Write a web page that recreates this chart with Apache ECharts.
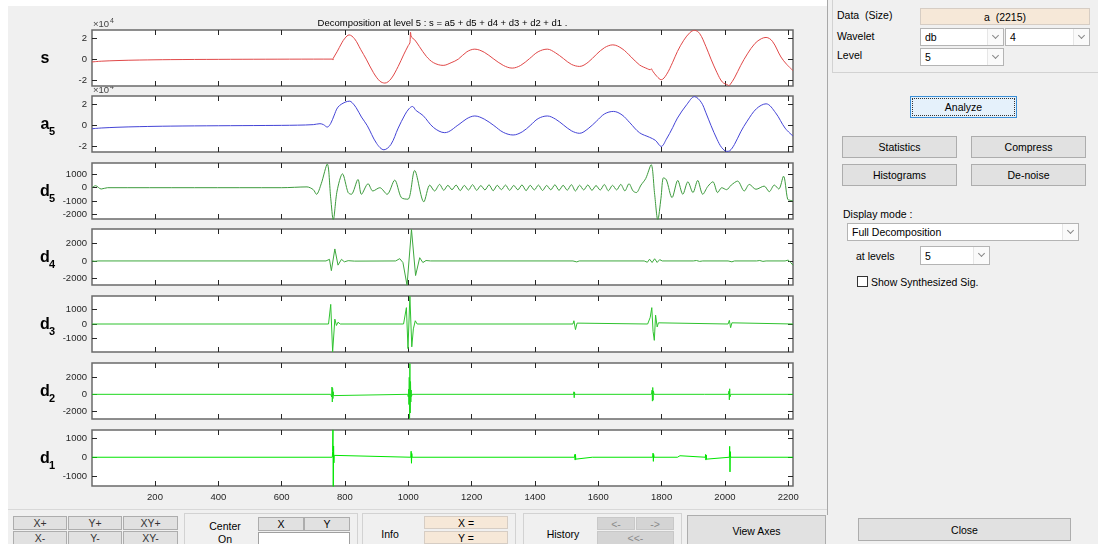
<!DOCTYPE html>
<html><head><meta charset="utf-8">
<script src="https://cdn.jsdelivr.net/npm/echarts@6/dist/echarts.min.js"></script>
<style>
html,body{margin:0;padding:0;}
body{width:1098px;height:544px;background:#f0f0f0;position:relative;overflow:hidden;font-family:'Liberation Sans',Arial,sans-serif;font-size:10.5px;color:#000;}
.btn{position:absolute;box-sizing:border-box;background:#e1e1e1;border:1px solid #adadad;display:flex;align-items:center;justify-content:center;color:#000;}
.btn.dis{background:#d4d4d4;border-color:#c8c8c8;color:#8a8a8a;}
.tan{position:absolute;box-sizing:border-box;background:#f6e8d8;border:1px solid #d6cdc4;display:flex;align-items:center;justify-content:center;}
.dd{position:absolute;box-sizing:border-box;background:#fff;border:1px solid #b4b4b4;padding-left:4px;display:flex;align-items:center;}
.dd .ar{position:absolute;right:0;top:0;bottom:0;width:15px;background:#fafafa;border-left:1px solid #e6e6e6;}
.dd .ar:after{content:'';position:absolute;left:5px;top:4px;width:4px;height:4px;border-right:1px solid #888;border-bottom:1px solid #888;transform:rotate(45deg);}
.frame{position:absolute;box-sizing:border-box;border:1px solid #d2d2d2;}
.txt{position:absolute;white-space:nowrap;line-height:12px;}
#chart{position:absolute;left:0;top:0;width:828px;height:509px;}
</style></head>
<body>
<div style="position:absolute;left:0;top:0;width:828px;height:6px;background:#fff"></div>
<div style="position:absolute;left:0;top:0;width:8px;height:544px;background:#fff"></div>
<div style="position:absolute;left:8px;top:509px;width:820px;height:1px;background:#d8d8d8"></div>
<div style="position:absolute;left:827px;top:0;width:1px;height:515px;background:#a8a8a8"></div>
<div id="chart"></div>

<!-- right panel -->
<div class="frame" style="left:832px;top:-2px;width:270px;height:75px;"></div>
<div class="txt" style="left:837px;top:9px;">Data&nbsp; (Size)</div>
<div class="tan" style="left:920px;top:8px;width:170px;height:17px;">a&nbsp; (2215)</div>
<div class="txt" style="left:837px;top:30px;">Wavelet</div>
<div class="dd" style="left:920px;top:28px;width:84px;height:18px;">db<span class="ar"></span></div>
<div class="dd" style="left:1005px;top:28px;width:85px;height:18px;">4<span class="ar"></span></div>
<div class="txt" style="left:837px;top:49px;">Level</div>
<div class="dd" style="left:920px;top:48px;width:84px;height:18px;">5<span class="ar"></span></div>
<div class="btn" style="left:910px;top:96px;width:107px;height:22px;background:#e5f1fb;border-color:#3c8fd6;outline:1px dotted #333;outline-offset:-3px;">Analyze</div>
<div class="btn" style="left:842px;top:136px;width:115px;height:22px;">Statistics</div>
<div class="btn" style="left:971px;top:136px;width:115px;height:22px;">Compress</div>
<div class="btn" style="left:842px;top:164px;width:115px;height:22px;">Histograms</div>
<div class="btn" style="left:971px;top:164px;width:115px;height:22px;">De-noise</div>
<div class="txt" style="left:843px;top:208px;">Display mode :</div>
<div class="dd" style="left:847px;top:223px;width:232px;height:18px;">Full Decomposition<span class="ar"></span></div>
<div class="txt" style="left:856px;top:250px;">at levels</div>
<div class="dd" style="left:920px;top:246px;width:70px;height:19px;">5<span class="ar"></span></div>
<div style="position:absolute;left:857px;top:276px;width:11px;height:11px;box-sizing:border-box;border:1px solid #333;background:#fff;"></div>
<div class="txt" style="left:871px;top:276px;">Show Synthesized Sig.</div>
<div class="btn" style="left:858px;top:518px;width:213px;height:23px;">Close</div>

<!-- bottom controls -->
<div class="btn" style="left:13px;top:516px;width:54px;height:14px;color:#333">X+</div>
<div class="btn" style="left:68px;top:516px;width:54px;height:14px;color:#333">Y+</div>
<div class="btn" style="left:123px;top:516px;width:55px;height:14px;color:#333">XY+</div>
<div class="btn" style="left:13px;top:531px;width:54px;height:14px;color:#333">X-</div>
<div class="btn" style="left:68px;top:531px;width:54px;height:14px;color:#333">Y-</div>
<div class="btn" style="left:123px;top:531px;width:55px;height:14px;color:#333">XY-</div>
<div class="frame" style="left:184px;top:513px;width:174px;height:34px;"></div>
<div class="txt" style="left:205px;top:520px;width:40px;text-align:center;">Center</div>
<div class="txt" style="left:205px;top:533px;width:40px;text-align:center;">On</div>
<div class="btn" style="left:258px;top:517px;width:46px;height:14px;">X</div>
<div class="btn" style="left:304px;top:517px;width:46px;height:14px;">Y</div>
<div style="position:absolute;left:258px;top:532px;width:92px;height:13px;box-sizing:border-box;background:#fff;border:1px solid #a0a0a0;"></div>
<div class="frame" style="left:362px;top:513px;width:154px;height:34px;"></div>
<div class="txt" style="left:374px;top:528px;width:32px;text-align:center;">Info</div>
<div class="tan" style="left:424px;top:516px;width:84px;height:13px;">X =</div>
<div class="tan" style="left:424px;top:531px;width:84px;height:13px;">Y =</div>
<div class="frame" style="left:523px;top:513px;width:159px;height:34px;"></div>
<div class="txt" style="left:540px;top:528px;width:46px;text-align:center;">History</div>
<div class="btn dis" style="left:597px;top:517px;width:38px;height:13px;">&lt;-</div>
<div class="btn dis" style="left:636px;top:517px;width:38px;height:13px;">-&gt;</div>
<div class="btn dis" style="left:597px;top:531px;width:77px;height:14px;">&lt;&lt;-</div>
<div class="btn" style="left:687px;top:515px;width:139px;height:31px;">View Axes</div>

<script>
// ---------- data (sample index, value) ----------
const xTicks = [200,400,600,800,1000,1200,1400,1600,1800,2000,2200];

const sData = [[1,-2700],[30,-2000],[80,-1400],[150,-900],[250,-500],[400,-250],[550,-100],[700,-20],[761,0],[762,-900],[763,800],[775,7000],[790,15500],[800,20000],[813,23100],[830,19500],[850,9000],[867,0],[890,-13000],[910,-21000],[926,-22900],[945,-19000],[968,-7000],[985,4000],[1000,13000],[1005,15500],[1007,25700],[1010,21000],[1020,18500],[1035,12000],[1057,2600],[1080,-3500],[1110,-6000],[1135,-3500],[1158,0],[1185,7000],[1210,9500],[1240,6500],[1268,500],[1300,-6000],[1328,-8600],[1355,-6000],[1383,500],[1410,7000],[1439,9500],[1465,6000],[1490,500],[1515,-5000],[1541,-7000],[1568,-3000],[1594,4500],[1620,11000],[1646,13600],[1675,10000],[1704,2000],[1730,-5500],[1755,-9200],[1764,-10200],[1767,-9200],[1772,-11500],[1785,-16500],[1799,-19700],[1815,-15000],[1835,-3000],[1850,7300],[1870,18000],[1890,25500],[1904,27500],[1920,24500],[1940,12000],[1956,0],[1975,-13000],[1992,-22000],[2009,-24700],[2012,-25300],[2016,-24500],[2030,-18000],[2050,-6000],[2071,5000],[2095,15000],[2115,19500],[2130,20700],[2150,17000],[2177,2000],[2195,-5000],[2215,-11000]];

const a5Data = [[1,-3100],[30,-2400],[80,-1700],[150,-1100],[250,-600],[400,-250],[550,0],[650,300],[700,800],[721,1700],[732,800],[744,-1500],[755,2000],[765,9000],[778,17400],[800,22000],[815,23000],[822,21800],[835,17000],[852,8000],[870,0],[900,-17000],[923,-23000],[945,-18000],[968,-2500],[989,10000],[1002,15800],[1013,18000],[1025,14000],[1046,9600],[1080,-2000],[1115,-6800],[1160,1000],[1185,6500],[1210,9000],[1240,6000],[1270,0],[1300,-6500],[1331,-9000],[1360,-6000],[1385,0],[1410,6500],[1439,9000],[1465,6000],[1490,500],[1515,-5000],[1541,-7400],[1568,-3000],[1594,4000],[1620,11000],[1648,13300],[1675,10000],[1700,2500],[1730,-6800],[1762,-11200],[1780,-14000],[1799,-19800],[1815,-13000],[1835,-2000],[1850,7000],[1880,20000],[1904,27300],[1925,22000],[1940,12000],[1956,0],[1975,-13000],[1990,-21000],[2006,-24500],[2015,-24000],[2030,-18000],[2050,-6000],[2070,4000],[2100,16000],[2130,20500],[2160,12000],[2190,-2500],[2215,-10000]];

const d5Data = [[1,0],[12,150],[30,-100],[50,0],[600,0],[680,60],[700,-150],[710,-500],[725,300],[744,1790],[755,-800],[763,-2440],[775,-250],[792,1050],[810,-370],[820,-500],[841,620],[852,-500],[873,300],[888,-250],[910,0],[933,-500],[957,570],[978,-750],[999,-870],[1020,1300],[1049,-1070],[1068,200],[1083,-250],[1099,250],[1112,-200],[1125,180],[1138,-150],[1151,200],[1164,-220],[1177,170],[1190,-180],[1203,230],[1216,-200],[1229,160],[1242,-170],[1255,220],[1268,-230],[1281,180],[1294,-150],[1307,200],[1320,-200],[1333,170],[1346,-160],[1359,210],[1372,-220],[1385,180],[1398,-170],[1411,200],[1424,-210],[1437,170],[1450,-160],[1463,220],[1476,-200],[1489,180],[1502,-190],[1515,230],[1528,-250],[1541,190],[1554,-170],[1567,210],[1580,-200],[1593,160],[1606,-180],[1619,240],[1632,-230],[1645,180],[1658,-170],[1671,250],[1684,-240],[1697,300],[1710,-250],[1720,-370],[1735,200],[1750,700],[1767,1740],[1778,-500],[1788,-2440],[1798,-800],[1806,750],[1815,600],[1833,-750],[1851,550],[1867,-500],[1883,450],[1899,-370],[1914,550],[1930,-500],[1946,100],[1962,450],[1977,-370],[1990,0],[2005,-150],[2020,200],[2040,500],[2061,-250],[2077,250],[2098,-120],[2124,120],[2140,-300],[2156,200],[2170,-100],[2185,870],[2198,-870],[2205,-950],[2215,-1000]];

const d4Data = [[1,0],[5,60],[10,-40],[20,0],[740,0],[751,185],[757,-1110],[768,1370],[778,-480],[789,185],[798,-100],[810,30],[830,-20],[960,0],[973,260],[983,-185],[996,-2780],[1010,3590],[1023,-1670],[1036,370],[1046,-185],[1056,50],[1070,0],[1520,0],[1526,185],[1532,-110],[1540,0],[1745,0],[1755,-150],[1762,200],[1770,-180],[1778,250],[1786,-170],[1794,150],[1802,0],[1900,0],[1910,50],[1920,-50],[1930,0],[2010,0],[2016,100],[2022,-100],[2030,0],[2100,0],[2110,50],[2120,-50],[2130,0],[2190,0],[2200,100],[2208,-200],[2215,-480]];

const d3Data = [[1,0],[748,0],[752,-60],[755,1330],[761,-1890],[768,330],[773,-100],[778,120],[785,0],[985,0],[990,-100],[994,1110],[999,-1670],[1005,1890],[1011,-1550],[1016,-330],[1022,220],[1028,0],[1520,0],[1523,220],[1528,-380],[1533,60],[1538,0],[1756,0],[1760,-80],[1764,450],[1769,1110],[1773,-500],[1777,-1110],[1781,600],[1786,-200],[1790,80],[1795,0],[2010,0],[2014,250],[2018,-250],[2022,80],[2026,0],[2215,0]];

const d2Data = [[1,0],[755,0],[757,200],[758,-300],[759,860],[760,-900],[761,700],[762,-500],[763,300],[764,-150],[766,0],[998,0],[1000,-300],[1001,600],[1002,-1200],[1003,2000],[1004,-2860],[1005,3600],[1006,-2200],[1007,1500],[1008,-900],[1009,500],[1010,-250],[1012,0],[1522,0],[1523,300],[1524,-400],[1525,250],[1526,0],[1768,0],[1770,500],[1771,-800],[1772,800],[1773,-700],[1774,400],[1776,0],[1936,0],[1938,150],[1939,-150],[1941,0],[2011,0],[2013,400],[2014,-650],[2015,650],[2016,-300],[2018,0],[2215,0]];

const d1Data = [[1,0],[760,0],[761,300],[762,1460],[763,-1580],[764,600],[765,-300],[766,100],[768,0],[1008,0],[1009,320],[1010,-320],[1011,200],[1012,0],[1525,0],[1526,150],[1527,-150],[1528,150],[1529,-100],[1530,0],[1581,0],[1582,100],[1583,-100],[1584,0],[1772,0],[1773,220],[1774,-220],[1775,150],[1776,0],[1850,0],[1852,100],[1854,-100],[1858,80],[1860,0],[1938,0],[1939,150],[1940,-150],[1941,120],[1942,-100],[1943,0],[2014,0],[2015,580],[2016,-780],[2017,300],[2018,0],[2215,0]];

const panelLetters = ['s','a','d','d','d','d','d'];
const panelSubs = ['', '5', '5', '4', '3', '2', '1'];
const yMins = [-25700,-25100,-2370,-2750,-1900,-2900,-1530];
const yMaxs = [27800,27900,1870,3650,1900,3680,1450];
const yTicks = [[-20000,0,20000],[-20000,0,20000],[-2000,-1000,0,1000],[-2000,0,2000],[-1000,0,1000],[-2000,0,2000],[-1000,0,1000]];
const titleText = 'Decomposition at level 5 : s = a5 + d5 + d4 + d3 + d2 + d1 .';

// ---------- layout / styles ----------
const seriesData = [sData,a5Data,d5Data,d4Data,d3Data,d2Data,d1Data];
const colors = ['#e04848','#4444d6','#3d9a3d','#3ea83e','#2fc22f','#1ed81e','#00e400'];
const smooths = [0.35,0.35,0.3,false,false,false,false];
const scales = [1e4,1e4,1,1,1,1,1];
const tops = [30,96,163,229,296,363,430];
const H = 56, L = 92, W = 701;
const FONT = "'Liberation Sans', Arial, sans-serif";
const tickColor = '#262626';

const grid = [], xAxis = [], yAxis = [], series = [], graphic = [];
tops.forEach((t,i)=>{
  grid.push({left:L, top:t, width:W, height:H, show:true, backgroundColor:'#fff', borderColor:'#6a6a6a', borderWidth:1.5});
  const xBase = {type:'value', gridIndex:i, min:1, max:2215, axisLine:{show:false, onZero:false}, splitLine:{show:false},
    axisTick:{show:true, inside:true, length:5, customValues:xTicks, lineStyle:{color:tickColor, width:1}}};
  xAxis.push(Object.assign({}, xBase, {position:'bottom',
    axisLabel:{show:i===6, customValues:xTicks, margin:6, fontSize:9.5, color:tickColor, fontFamily:FONT, formatter:(v)=>String(v)}}));
  xAxis.push(Object.assign({}, xBase, {position:'top', axisLabel:{show:false}}));
  const yBase = {type:'value', gridIndex:i, min:yMins[i], max:yMaxs[i], axisLine:{show:false, onZero:false}, splitLine:{show:false},
    axisTick:{show:true, inside:true, length:5, customValues:yTicks[i], lineStyle:{color:tickColor, width:1}}};
  yAxis.push(Object.assign({}, yBase, {position:'left',
    axisLabel:{show:true, customValues:yTicks[i], margin:5, fontSize:9.5, color:tickColor, fontFamily:FONT,
      formatter:(v)=>String(Math.round(v/scales[i]))}}));
  yAxis.push(Object.assign({}, yBase, {position:'right', axisLabel:{show:false}}));
  series.push({type:'line', xAxisIndex:2*i, yAxisIndex:2*i, data:seriesData[i], symbol:'none', showSymbol:false,
    smooth:smooths[i], lineStyle:{color:colors[i], width:1}, animation:false, silent:true, clip:true});
  const cy = t + H/2;
  graphic.push({type:'text', x:45, y:cy+1, style:{text:panelLetters[i], font:'bold 16px '+FONT, fill:'#000', textAlign:'center', textVerticalAlign:'middle'}});
  if (panelSubs[i]) graphic.push({type:'text', x:52, y:cy+8, style:{text:panelSubs[i], font:'bold 11px '+FONT, fill:'#000', textAlign:'center', textVerticalAlign:'middle'}});
});
graphic.push({type:'text', x:L+W/2, y:23, style:{text:titleText, font:'9.5px '+FONT, fill:'#000', textAlign:'center', textVerticalAlign:'middle'}});
[0,1].forEach(k=>{
  const t = tops[k];
  graphic.push({type:'text', z:-1, x:93, y:t-6, style:{text:'\u00d710', font:'9.5px '+FONT, fill:'#444', textAlign:'left', textVerticalAlign:'middle'}});
  graphic.push({type:'text', z:-1, x:110, y:t-9, style:{text:'4', font:'7px '+FONT, fill:'#444', textAlign:'left', textVerticalAlign:'middle'}});
});

const chart = echarts.init(document.getElementById('chart'), null, {renderer:'canvas'});
chart.setOption({animation:false, backgroundColor:'transparent', grid, xAxis, yAxis, series, graphic});
</script>
</body></html>
